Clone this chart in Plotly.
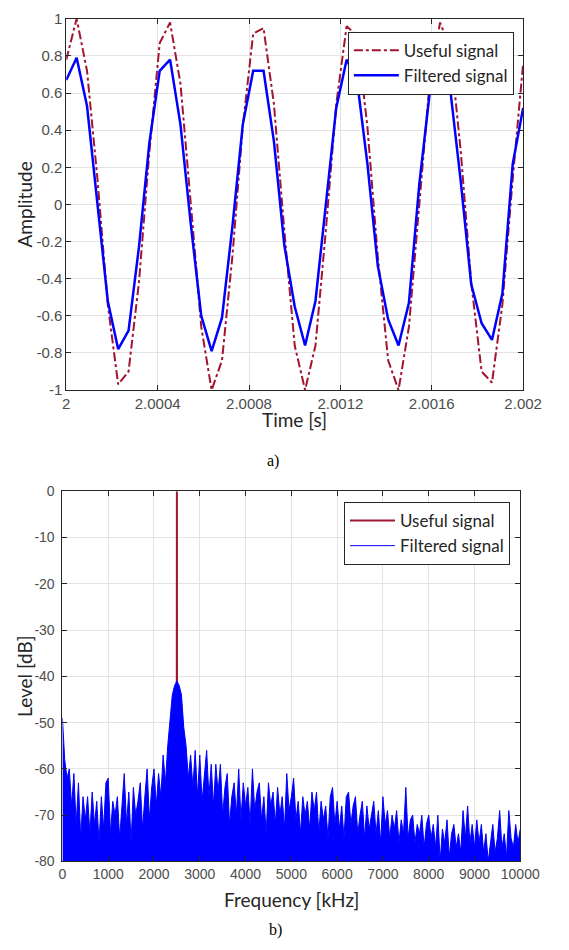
import numpy as np
import plotly.graph_objects as go

# a) time domain, 45 samples at 22 kHz starting at t = 2 s
fs = 22000
useful = [0.78, 1.0, 0.72, 0.14, -0.54, -0.97, -0.90, -0.42, 0.28, 0.87,
          0.98, 0.65, 0.0, -0.66, -1.0, -0.84, -0.28, 0.42, 0.92, 0.95,
          0.54, -0.14, -0.76, -1.0, -0.76, -0.14, 0.54, 0.96, 0.91, 0.42,
          -0.28, -0.84, -1.0, -0.66, 0.0, 0.66, 0.98, 0.84, 0.28, -0.42,
          -0.90, -0.96, -0.54, 0.14, 0.76]
filtered = [0.67, 0.79, 0.53, 0.0, -0.52, -0.78, -0.68, -0.23, 0.33, 0.72,
            0.78, 0.43, -0.11, -0.60, -0.79, -0.61, -0.12, 0.43, 0.72, 0.72,
            0.34, -0.22, -0.55, -0.76, -0.52, 0.0, 0.52, 0.78, 0.67, 0.22,
            -0.33, -0.62, -0.76, -0.53, 0.11, 0.60, 0.77, 0.61, 0.12, -0.43,
            -0.64, -0.73, -0.48, 0.22, 0.52]
time = 2 + np.arange(len(useful)) / fs

time_ticks = [2, 2.0004, 2.0008, 2.0012, 2.0016, 2.002]
time_labels = ["2", "2.0004", "2.0008", "2.0012", "2.0016", "2.002"]
amp_ticks = [1, 0.8, 0.6, 0.4, 0.2, 0, -0.2, -0.4, -0.6, -0.8, -1]
amp_labels = ["1", "0.8", "0.6", "0.4", "0.2", "0", "-0.2", "-0.4", "-0.6", "-0.8", "-1"]

# b) spectrum, 50 kHz bins
freq_step = 50
filt_level = [
    -49, -58, -62, -60, -68, -61, -72, -63, -75, -66, -71, -66, -74, -65, -72, -67, -76, -66, -73, -63,
    -62, -74, -67, -70, -66, -75, -68, -61, -72, -65, -76, -64, -70, -67, -63, -73, -66, -60, -71, -64,
    -60, -68, -61, -66, -57, -63, -55, -49, -44, -42, -41, -42, -44, -51, -55, -62, -57, -64, -56, -66,
    -57, -67, -62, -56, -66, -59, -68, -59, -65, -59, -70, -64, -61, -72, -66, -63, -70, -60, -71, -63,
    -68, -64, -72, -60, -69, -65, -63, -71, -66, -74, -63, -68, -65, -72, -64, -70, -66, -73, -61, -69,
    -66, -62, -71, -67, -74, -66, -70, -67, -73, -65, -69, -65, -74, -67, -71, -68, -75, -66, -64, -72,
    -67, -73, -68, -75, -66, -65, -72, -68, -66, -74, -70, -67, -75, -68, -73, -70, -67, -74, -69, -76,
    -66, -72, -69, -75, -70, -73, -69, -76, -71, -74, -64, -75, -71, -70, -76, -72, -74, -70, -77, -72,
    -70, -75, -72, -77, -70, -80, -73, -76, -71, -79, -74, -72, -77, -74, -78, -69, -75, -68, -76, -72,
    -77, -71, -76, -72, -78, -74, -80, -76, -72, -78, -75, -69, -77, -74, -79, -69, -75, -77, -72, -76,
    -73]
freq = np.arange(len(filt_level)) * freq_step
useful_freq = [2490, 2500, 2510]
useful_level = [-200, 0, -200]

freq_ticks = [0, 1000, 2000, 3000, 4000, 5000, 6000, 7000, 8000, 9000, 10000]
freq_labels = [str(f) for f in freq_ticks]
level_ticks = [0, -10, -20, -30, -40, -50, -60, -70, -80]
level_labels = ["0", "-10", "-20", "-30", "-40", "-50", "-60", "-70", "-80"]

RED = "#A2142F"
BLUE = "#0000FF"
AXIS = "#262626"
GRID = "#e3e3e3"
TICKFONT = "Liberation Sans"
LABELFONT = "Lato"

fig = go.Figure()

fig.add_trace(go.Scatter(x=time, y=useful, mode="lines", name="Useful signal",
                         line=dict(color=RED, width=2, dash="dashdot"), legendrank=1,
                         xaxis="x", yaxis="y", legend="legend"))
fig.add_trace(go.Scatter(x=time, y=filtered, mode="lines", name="Filtered signal",
                         line=dict(color=BLUE, width=2.5), legendrank=2,
                         xaxis="x", yaxis="y", legend="legend"))

fig.add_trace(go.Scatter(x=useful_freq, y=useful_level, mode="lines", name="Useful signal",
                         line=dict(color=RED, width=2), legendrank=1,
                         xaxis="x2", yaxis="y2", legend="legend2"))
fig.add_trace(go.Scatter(x=[0, 10000], y=[-80, -80], mode="lines", showlegend=False,
                         line=dict(width=0), hoverinfo="skip",
                         xaxis="x2", yaxis="y2"))
fig.add_trace(go.Scatter(x=freq, y=filt_level, mode="lines", showlegend=False,
                         line=dict(color=BLUE, width=1), fill="tonexty", fillcolor=BLUE,
                         xaxis="x2", yaxis="y2"))
# legend entry for the filled spectrum, shown as a thin line
fig.add_trace(go.Scatter(x=[None], y=[None], mode="lines", name="Filtered signal",
                         line=dict(color=BLUE, width=1), legendrank=2,
                         xaxis="x2", yaxis="y2", legend="legend2"))

W, H = 569, 950


def ax(lo, hi, vals, labels, size, domain, anchor):
    return dict(range=[lo, hi], tickmode="array", tickvals=vals, ticktext=labels,
                domain=domain, anchor=anchor,
                showline=True, linecolor=AXIS, linewidth=1, mirror="ticks",
                ticks="inside", ticklen=5, tickcolor=AXIS,
                showgrid=True, gridcolor=GRID, gridwidth=1, zeroline=False,
                tickfont=dict(family=TICKFONT, size=size, color="#4d4d4d"))


yax = ax(-1, 1, amp_ticks, amp_labels, 15, [1 - 388 / H, 1 - 10 / H], "x")
yax2 = ax(-80, 0, level_ticks, level_labels, 14, [1 - 868 / H, 1 - 491 / H], "x2")
yax2["ticklabelstandoff"] = 4

fig.update_layout(
    width=W, height=H, autosize=False,
    margin=dict(l=0, r=0, t=0, b=0),
    paper_bgcolor="white", plot_bgcolor="white",
    xaxis=ax(2, 2.002, time_ticks, time_labels, 15, [65 / W, 542 / W], "y"),
    yaxis=yax,
    xaxis2=ax(0, 10000, freq_ticks, freq_labels, 14, [61 / W, 539 / W], "y2"),
    yaxis2=yax2,
    legend=dict(x=359 / W, y=1 - 23 / H, xanchor="left", yanchor="top",
                bgcolor="white", bordercolor=AXIS, borderwidth=1, itemwidth=45,
                font=dict(family=LABELFONT, size=17, color=AXIS),
                tracegroupgap=0, traceorder="normal"),
    legend2=dict(x=355 / W, y=1 - 502 / H, xanchor="left", yanchor="top",
                 bgcolor="white", bordercolor=AXIS, borderwidth=1, itemwidth=45,
                 font=dict(family=LABELFONT, size=17, color=AXIS),
                 tracegroupgap=0, traceorder="normal"),
    showlegend=True,
)

titles = [("Time [s]", 303, 418, 0), ("Amplitude", 21, 199, -90),
          ("Frequency [kHz]", 300, 907, 0), ("Level [dB]", 22, 680, -90)]
for text, px, py, ang in titles:
    fig.add_annotation(text=text, x=px / W, y=1 - py / H, xref="paper", yref="paper",
                       showarrow=False, textangle=ang, xanchor="center", yanchor="middle",
                       font=dict(family=LABELFONT, size=19, color=AXIS))

for text, px, py in [("a)", 281, 460), ("b)", 283, 938)]:
    fig.add_annotation(text=text, x=px / W, y=1 - py / H, xref="paper", yref="paper",
                       showarrow=False, xanchor="center", yanchor="middle",
                       font=dict(family="Liberation Serif", size=16, color="black"))

# drop the browser's default body margin so the figure sits at the page origin
fig.write_html("out.html", config={"displayModeBar": False},
               post_script="document.body.style.margin = '0';")
